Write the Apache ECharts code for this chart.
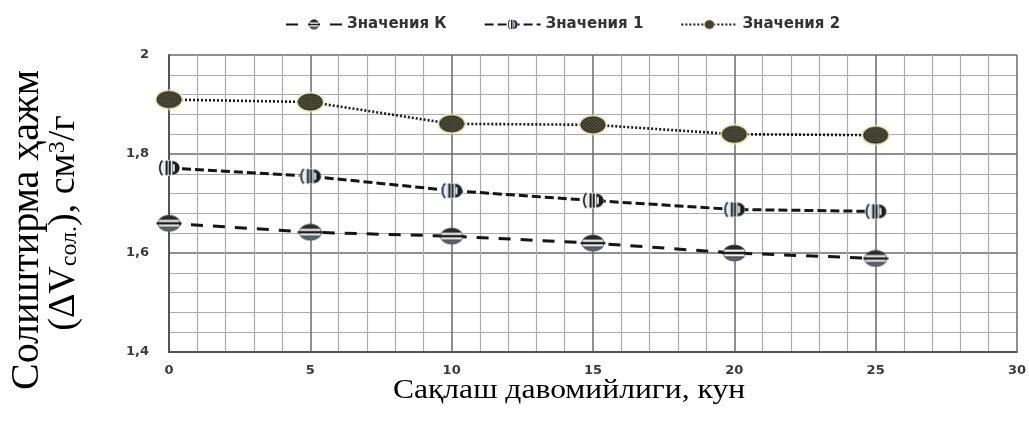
<!DOCTYPE html>
<html>
<head>
<meta charset="utf-8">
<script src="https://cdn.jsdelivr.net/npm/echarts/dist/echarts.min.js"></script>
<style>
  html, body { margin: 0; padding: 0; background: #fff; }
  #chart { width: 1029px; height: 425px; }
</style>
</head>
<body>
<div id="chart"></div>
<script>
// Storage time, days
const days = [0, 5, 10, 15, 20, 25];
const seriesNames = ['Значения К', 'Значения 1', 'Значения 2'];
// Specific volume, cm3/g
const valuesK = [1.660, 1.642, 1.634, 1.620, 1.600, 1.589];
const values1 = [1.772, 1.755, 1.726, 1.706, 1.688, 1.684];
const values2 = [1.910, 1.905, 1.861, 1.859, 1.840, 1.838];
const xTitle = 'Сақлаш давомийлиги, кун';
const yTitleLine1 = 'Солиштирма ҳажм';

function pairs(values) {
  return days.map((d, i) => [d, values[i]]);
}

// Small raster marker drawn once on a canvas and handed to ECharts as image symbol
function markerURL(w, h, draw) {
  const s = 4;
  const c = document.createElement('canvas');
  c.width = w * s; c.height = h * s;
  const g = c.getContext('2d');
  g.scale(s, s);
  draw(g, w, h);
  return 'image://' + c.toDataURL();
}

function ellipsePath(g, cx, cy, rx, ry) {
  g.beginPath();
  g.ellipse(cx, cy, rx, ry, 0, 0, Math.PI * 2);
}

// striped disc
const symK = markerURL(26, 18, (g, w, h) => {
  const cx = w / 2, cy = h / 2, rx = w / 2 - 2, ry = h / 2 - 1;
  g.save();
  ellipsePath(g, cx, cy, rx, ry);
  g.clip();
  g.fillStyle = '#2a2a2c'; g.fillRect(0, 0, w, h);
  g.fillStyle = '#5d636e'; g.fillRect(0, h * 0.74, w, h);
  g.fillStyle = '#f2f2f2';
  g.fillRect(0, h * 0.31, w, h * 0.12);
  g.fillRect(0, h * 0.57, w, h * 0.12);
  g.restore();
  ellipsePath(g, cx, cy, rx, ry);
  g.strokeStyle = '#555'; g.lineWidth = 0.8; g.stroke();
  g.fillStyle = '#1e1e1e';
  g.fillRect(0.5, h * 0.44, w - 1, h * 0.12);
});

// bracketed marker "(||D"
const sym1 = markerURL(24, 18, (g, w, h) => {
  ellipsePath(g, w / 2, h / 2, w / 2 - 1, h / 2 - 1);
  g.fillStyle = '#e6ecf2'; g.fill();
  g.strokeStyle = '#1c1c1c'; g.lineWidth = 1.6;
  g.beginPath();
  g.ellipse(w * 0.28, h / 2, w * 0.16, h * 0.42, 0, Math.PI * 0.6, Math.PI * 1.4);
  g.stroke();
  g.lineWidth = 2;
  g.beginPath();
  g.moveTo(w * 0.40, h * 0.1); g.lineTo(w * 0.40, h * 0.9);
  g.moveTo(w * 0.53, h * 0.1); g.lineTo(w * 0.53, h * 0.9);
  g.stroke();
  g.fillStyle = '#1c1c1c';
  g.beginPath();
  g.moveTo(w * 0.64, h * 0.12);
  g.ellipse(w * 0.64, h / 2, w * 0.3, h * 0.38, 0, -Math.PI / 2, Math.PI / 2);
  g.closePath();
  g.fill();
  g.fillStyle = '#e6ecf2';
  g.fillRect(w * 0.66, h * 0.3, w * 0.08, h * 0.4);
});

// hatched dark disc with a pale halo
const sym2 = markerURL(30, 22, (g, w, h) => {
  const cx = w / 2, cy = h / 2;
  ellipsePath(g, cx, cy, w / 2 - 0.5, h / 2 - 0.5);
  g.fillStyle = 'rgba(232,236,176,0.75)'; g.fill();
  const rx = w / 2 - 3, ry = h / 2 - 3;
  g.save();
  ellipsePath(g, cx, cy, rx, ry);
  g.clip();
  g.fillStyle = '#26261c'; g.fillRect(0, 0, w, h);
  g.strokeStyle = 'rgba(112,112,86,0.9)'; g.lineWidth = 0.6;
  g.beginPath();
  for (let k = -h; k < w + h; k += 3.2) {
    g.moveTo(k, 0); g.lineTo(k + h, h);
    g.moveTo(k, h); g.lineTo(k + h, 0);
  }
  g.stroke();
  g.restore();
  ellipsePath(g, cx, cy, rx, ry);
  g.strokeStyle = '#1e1e14'; g.lineWidth = 0.8; g.stroke();
});

const labelFont = { fontFamily: 'DejaVu Sans', fontWeight: 'bold', fontSize: 13, color: '#3a3a3a' };
const serif = 'Liberation Serif';

const chart = echarts.init(document.getElementById('chart'), null, { renderer: 'canvas' });
chart.setOption({
  animation: false,
  backgroundColor: '#fff',
  legend: {
    data: seriesNames,
    top: 12,
    left: 280,
    itemGap: 37,
    itemWidth: 56,
    itemHeight: 14,
    textStyle: { fontFamily: 'DejaVu Sans', fontWeight: 'bold', fontSize: 15, color: '#333' }
  },
  grid: { left: 169, right: 11, top: 55, bottom: 73 },
  xAxis: {
    type: 'value',
    min: 0, max: 30, interval: 5,
    axisLine: { show: true, lineStyle: { color: '#555', width: 2 } },
    axisTick: { show: false },
    minorTick: { show: false, splitNumber: 5 },
    splitLine: { show: true, lineStyle: { color: '#6a6a6a', width: 1.5 } },
    minorSplitLine: { show: true, lineStyle: { color: '#ababab', width: 1.2 } },
    axisLabel: Object.assign({ margin: 12 }, labelFont)
  },
  yAxis: {
    type: 'value',
    min: 1.4, max: 2, interval: 0.2,
    axisLine: { show: true, lineStyle: { color: '#555', width: 2 } },
    axisTick: { show: false },
    minorTick: { show: false, splitNumber: 5 },
    splitLine: { show: true, lineStyle: { color: '#6a6a6a', width: 1.5 } },
    minorSplitLine: { show: true, lineStyle: { color: '#ababab', width: 1.2 } },
    axisLabel: Object.assign({
      margin: 20,
      formatter: v => String(Math.round(v * 10) / 10).replace('.', ',')
    }, labelFont)
  },
  series: [
    {
      name: seriesNames[0], type: 'line', data: pairs(valuesK),
      symbol: symK, symbolSize: [26, 18],
      lineStyle: { color: '#151515', width: 3, type: [12, 10] },
      itemStyle: { color: '#151515' }
    },
    {
      name: seriesNames[1], type: 'line', data: pairs(values1),
      symbol: sym1, symbolSize: [24, 18],
      lineStyle: { color: '#151515', width: 3, type: [9, 4] },
      itemStyle: { color: '#151515' }
    },
    {
      name: seriesNames[2], type: 'line', data: pairs(values2),
      symbol: sym2, symbolSize: [30, 22],
      lineStyle: { color: '#1a1a1a', width: 2.6, type: [2, 2] },
      itemStyle: { color: '#1a1a1a' }
    }
  ],
  graphic: [
    {
      // y-axis title, first line
      type: 'text',
      x: 27, y: 230,
      rotation: Math.PI / 2,
      style: {
        text: yTitleLine1,
        font: '40px "' + serif + '"',
        textAlign: 'center', textVerticalAlign: 'middle',
        align: 'center', verticalAlign: 'middle',
        fill: '#000'
      }
    },
    {
      // y-axis title, second line with sub- and superscript
      type: 'text',
      x: 64, y: 223,
      rotation: Math.PI / 2,
      style: {
        text: '{a|(ΔV}{s|сол.}{a|), см}{p|3}{a|/г}',
        textAlign: 'center', textVerticalAlign: 'middle',
        align: 'center', verticalAlign: 'middle',
        fill: '#000',
        rich: {
          a: { fontFamily: serif, fontSize: 38, lineHeight: 36, fill: '#000', color: '#000' },
          s: { fontFamily: serif, fontSize: 24, lineHeight: 36, verticalAlign: 'bottom', padding: [9, 0, 0, 0], fill: '#000', color: '#000' },
          p: { fontFamily: serif, fontSize: 24, lineHeight: 36, verticalAlign: 'top', padding: [0, 0, 10, 0], fill: '#000', color: '#000' }
        }
      }
    },
    {
      type: 'text',
      x: 569, y: 391,
      scaleX: 1.17,
      style: {
        text: xTitle,
        font: '27px "' + serif + '"',
        textAlign: 'center', textVerticalAlign: 'middle',
        align: 'center', verticalAlign: 'middle',
        fill: '#000'
      }
    }
  ]
});
</script>
</body>
</html>
